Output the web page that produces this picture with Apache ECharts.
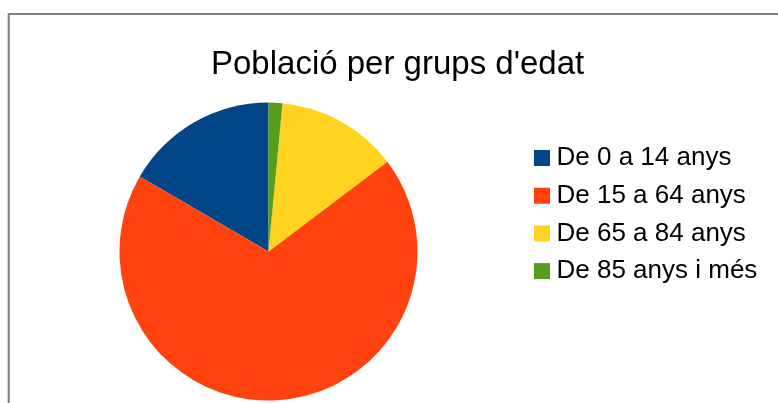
<!DOCTYPE html>
<html>
<head>
<meta charset="utf-8">
<script src="https://cdn.jsdelivr.net/npm/echarts@6/dist/echarts.min.js"></script>
<style>
html,body{margin:0;padding:0;background:#fff;}
#chart{width:778px;height:403px;}
</style>
</head>
<body>
<div id="chart"></div>
<script>
const titleText = "Població per grups d'edat";
const categories = ["De 0 a 14 anys", "De 15 a 64 anys", "De 65 a 84 anys", "De 85 anys i més"];
const values = [16.6, 68.7, 13.2, 1.5];
const colors = ["#004586", "#ff420e", "#ffd320", "#579d1c"];

const chart = echarts.init(document.getElementById('chart'));
chart.setOption({
  animation: false,
  backgroundColor: '#ffffff',
  title: {
    text: titleText,
    left: 211,
    top: 48,
    padding: 0,
    textStyle: {fontFamily: 'Liberation Sans', fontSize: 33, fontWeight: 'normal', color: '#000', lineHeight: 33}
  },
  legend: {
    orient: 'vertical',
    left: 534,
    top: 145,
    padding: 0,
    itemWidth: 16,
    itemHeight: 16,
    itemGap: 11.7,
    icon: 'rect',
    selectedMode: false,
    data: categories,
    textStyle: {fontFamily: 'Liberation Sans', fontSize: 26, color: '#000', lineHeight: 26, padding: [0,0,0,1.5]}
  },
  graphic: [{
    type: 'rect',
    shape: {x: 8.7, y: 14, width: 800, height: 500},
    style: {fill: null, stroke: '#7f7f7f', lineWidth: 2},
    silent: true
  }],
  series: [{
    type: 'pie',
    center: [268.5, 251.5],
    radius: 149,
    startAngle: 90,
    clockwise: false,
    label: {show: false},
    labelLine: {show: false},
    emphasis: {disabled: true},
    itemStyle: {borderWidth: 0},
    data: categories.map((c, i) => ({name: c, value: values[i], itemStyle: {color: colors[i]}}))
  }]
});
</script>
</body>
</html>
